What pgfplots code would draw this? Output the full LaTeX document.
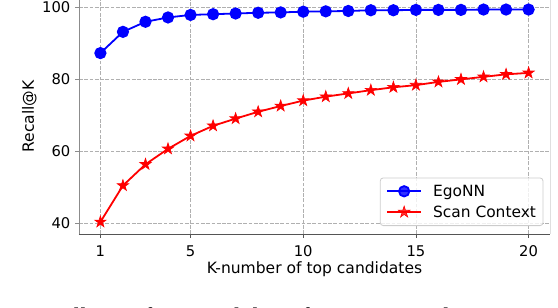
\documentclass[border=0pt]{standalone}
\usepackage{fontspec}
\setmainfont{DejaVu Sans}
\newfontfamily\capfont{Liberation Serif}
\usepackage{pgfplots}
\usepackage{pgfplotstable}
\pgfplotsset{compat=1.18}
\definecolor{gridgray}{HTML}{B0B0B0}
\definecolor{leftspine}{HTML}{8C8C8C}
\definecolor{botspine}{HTML}{555555}
\definecolor{legedge}{HTML}{CCCCCC}
\pgfdeclareplotmark{fstar}{%
  \pgfpathmoveto{\pgfqpointpolar{90}{\pgfplotmarksize}}%
  \pgfpathlineto{\pgfqpointpolar{126}{0.382\pgfplotmarksize}}%
  \pgfpathlineto{\pgfqpointpolar{162}{\pgfplotmarksize}}%
  \pgfpathlineto{\pgfqpointpolar{198}{0.382\pgfplotmarksize}}%
  \pgfpathlineto{\pgfqpointpolar{234}{\pgfplotmarksize}}%
  \pgfpathlineto{\pgfqpointpolar{270}{0.382\pgfplotmarksize}}%
  \pgfpathlineto{\pgfqpointpolar{306}{\pgfplotmarksize}}%
  \pgfpathlineto{\pgfqpointpolar{342}{0.382\pgfplotmarksize}}%
  \pgfpathlineto{\pgfqpointpolar{18}{\pgfplotmarksize}}%
  \pgfpathlineto{\pgfqpointpolar{54}{0.382\pgfplotmarksize}}%
  \pgfpathclose
  \pgfusepathqfillstroke}
\pgfplotstableread{
k ego sc
1 87.2 40.3
2 93.1 50.4
3 95.9 56.3
4 97.1 60.6
5 97.8 64.2
6 98.0 67.0
7 98.2 69.0
8 98.4 70.9
9 98.5 72.5
10 98.7 74.0
11 98.8 75.1
12 98.9 76.0
13 99.1 76.9
14 99.1 77.7
15 99.2 78.3
16 99.2 79.2
17 99.2 79.9
18 99.3 80.6
19 99.3 81.3
20 99.3 81.7
}\datatable
\begin{document}
\begin{tikzpicture}
\useasboundingbox (-79bp,-74bp) rectangle (479bp,234bp);
\clip (-79bp,-74bp) rectangle (479bp,234bp);
\begin{axis}[
  at={(0,0)}, anchor=south west,
  scale only axis, width=471bp, height=235.26bp,
  xmin=0.05, xmax=20.95, ymin=36.95, ymax=102.3,
  axis x line*=bottom, axis y line*=left,
  x axis line style={botspine, line width=0.8bp},
  y axis line style={leftspine, line width=0.8bp},
  xtick={1,5,10,15,20}, ytick={40,60,80,100},
  tick align=outside, major tick length=3.5bp,
  x tick style={botspine, line width=0.8bp},
  y tick style={leftspine, line width=0.8bp},
  minor tick num=0,
  grid=major,
  grid style={gridgray, line width=0.8bp, dash pattern=on 3.7bp off 1.6bp},
  /pgf/number format/assume math mode=true,
  tick label style={font=\fontsize{14.8}{17.5}\selectfont},
  xticklabel style={anchor=north, inner sep=0pt, yshift=-8bp},
  yticklabel style={anchor=east, inner sep=0pt, xshift=-5bp},
  label style={font=\fontsize{15.6}{18.5}\selectfont},
  xlabel={K-number of top candidates},
  ylabel={Recall@K},
  xlabel style={at={(axis description cs:0.5,0)}, anchor=base, yshift=-39bp, inner sep=0pt},
  ylabel style={at={(axis description cs:0,0.5)}, anchor=base, yshift=45bp, inner sep=0pt},
  legend cell align=left,
  legend style={at={(0.986,0.034)}, anchor=south east, draw=legedge, rounded corners=3bp,
    fill=white, fill opacity=0.8, text opacity=1, line width=0.8bp,
    font=\fontsize{15.5}{18.5}\selectfont, inner xsep=6bp, inner ysep=5bp, row sep=4bp,
    nodes={inner xsep=1bp}},
  legend image code/.code={%
    \draw[mark repeat=2, mark phase=2] plot coordinates {(0bp,0bp) (17bp,0bp) (34bp,0bp)};
    \path (44bp,0bp);},
]
\addplot[blue, line width=1.8bp, mark=*, mark size=5.2bp, mark options={solid, fill=blue}] table[x=k, y=ego] {\datatable};
\addlegendentry{EgoNN}
\addplot[red, line width=1.8bp, mark=fstar, mark size=6bp, mark options={solid, fill=red, line width=0.6bp}] table[x=k, y=sc] {\datatable};
\addlegendentry{Scan Context}
\draw[black, line width=0.8bp] (rel axis cs:1,0) -- (rel axis cs:1,1) -- (rel axis cs:0,1);
\end{axis}
\node[font=\capfont\fontsize{24}{28}\selectfont, anchor=base east, inner sep=0pt] at (-82bp,-90bp) {Fig.\ };
\node[font=\capfont\fontsize{24}{28}\selectfont, anchor=base west, inner sep=0pt] at (-81bp,-90bp) {2.\hspace{10bp}Recall@K of top candidates for EgoNN and Scan Context};
\end{tikzpicture}
\end{document}
